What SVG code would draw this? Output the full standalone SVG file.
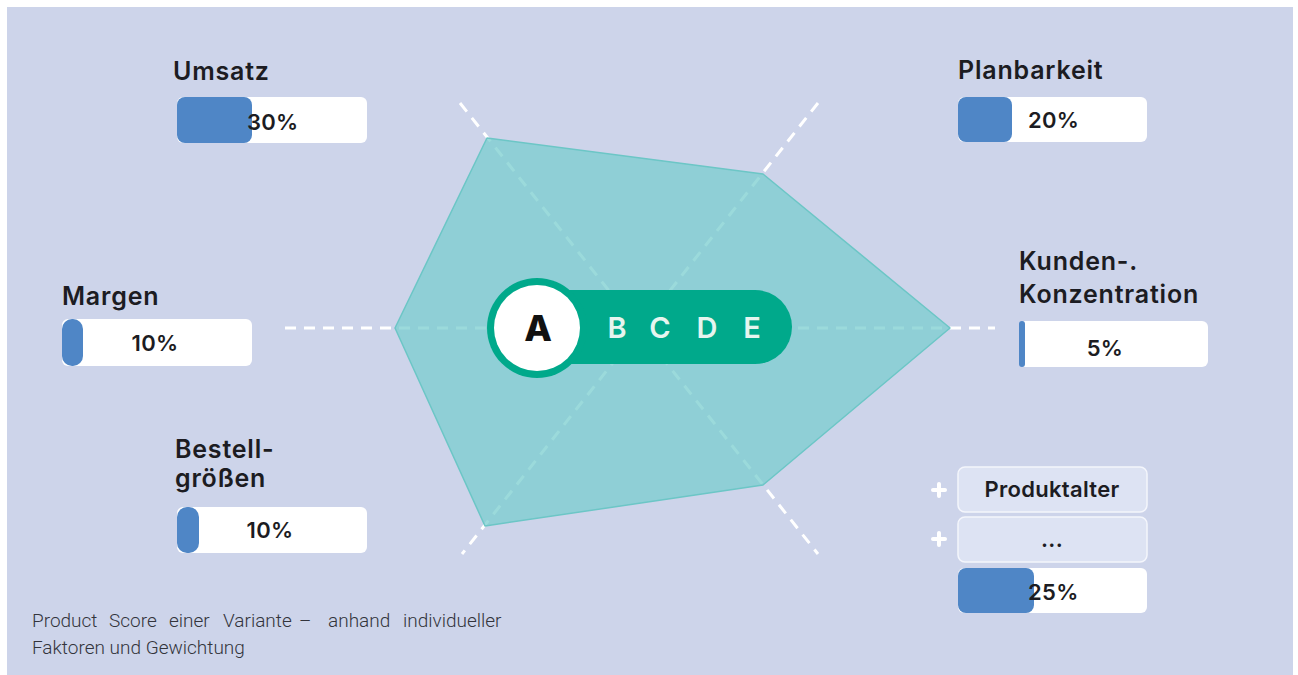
<svg xmlns="http://www.w3.org/2000/svg" width="1298" height="675" viewBox="0 0 1298 675">
  <defs>
    <style>
      .lbl{font-family:Inter,"Noto Sans",sans-serif;font-weight:600;font-size:25px;letter-spacing:0.8px;fill:#1c1c22}
      .pct{font-family:Inter,"Noto Sans",sans-serif;font-weight:600;font-size:22px;letter-spacing:0.3px;fill:#1c1c22}
      .track{fill:#ffffff}
      .fillbar{fill:#4f86c6}
      .axis{stroke:#ffffff;stroke-width:3;stroke-dasharray:11 8;fill:none}
      .chip{fill:#dde3f3;stroke:#f4f6fc;stroke-width:1.5}
      .plus{stroke:#ffffff;stroke-width:4;stroke-linecap:round}
      .letter{font-family:Inter,"Noto Sans",sans-serif;font-weight:600;font-size:29px;fill:#e6f5ef;text-anchor:middle}
      .cap{font-family:Roboto,"Liberation Sans",sans-serif;font-weight:300;font-size:19px;fill:#33343c}
    </style>
  </defs>
  <rect x="0" y="0" width="1298" height="675" fill="#ffffff"/>
  <rect x="7" y="7" width="1286" height="668" fill="#cdd4ea"/>

  <g id="connectors">
    <line class="axis" x1="285" y1="328" x2="995" y2="328"/>
    <line class="axis" x1="460" y1="103" x2="818" y2="554"/>
    <line class="axis" x1="818" y1="103" x2="462" y2="554"/>
  </g>

  <g id="radar">
    <polygon points="395,328 487,138 763,174 950,328 763,485 485,526" fill="#79cecf" fill-opacity="0.75" stroke="#6cc6c6" stroke-width="1.5" stroke-linejoin="round"/>
  </g>

  <g id="selector">
    <rect x="500" y="290" width="292" height="74" rx="37" fill="#00a98b"/>
    <circle cx="537" cy="328" r="50" fill="#00a98b"/>
    <circle cx="537" cy="328" r="43" fill="#ffffff"/>
    <text x="538" y="341" font-family="Inter,'Noto Sans',sans-serif" font-weight="800" font-size="36" fill="#111111" text-anchor="middle">A</text>
    <text class="letter" x="617" y="338">B</text>
    <text class="letter" x="660" y="338">C</text>
    <text class="letter" x="707" y="338">D</text>
    <text class="letter" x="752" y="338">E</text>
  </g>

  <g id="umsatz">
    <text class="lbl" x="173" y="80">Umsatz</text>
    <rect class="track" x="177" y="97" width="190" height="46" rx="6"/>
    <rect class="fillbar" x="177" y="97" width="75" height="46" rx="8"/>
    <text class="pct" x="247" y="130">30%</text>
  </g>

  <g id="margen">
    <text class="lbl" x="62" y="305">Margen</text>
    <rect class="track" x="62" y="319" width="190" height="47" rx="6"/>
    <rect class="fillbar" x="62" y="319" width="21" height="47" rx="10"/>
    <text class="pct" x="155" y="351" text-anchor="middle">10%</text>
  </g>

  <g id="bestellgroessen">
    <text class="lbl" x="175" y="458">Bestell-</text>
    <text class="lbl" x="175" y="487">größen</text>
    <rect class="track" x="177" y="507" width="190" height="46" rx="6"/>
    <rect class="fillbar" x="177" y="507" width="22" height="46" rx="10"/>
    <text class="pct" x="270" y="538" text-anchor="middle">10%</text>
  </g>

  <g id="planbarkeit">
    <text class="lbl" x="958" y="79">Planbarkeit</text>
    <rect class="track" x="958" y="97" width="189" height="45" rx="6"/>
    <rect class="fillbar" x="958" y="97" width="54" height="45" rx="8"/>
    <text class="pct" x="1028" y="128">20%</text>
  </g>

  <g id="kundenkonzentration">
    <text class="lbl" x="1019" y="270">Kunden-.</text>
    <text class="lbl" x="1019" y="303">Konzentration</text>
    <rect class="track" x="1019" y="321" width="189" height="46" rx="6"/>
    <rect class="fillbar" x="1019" y="321" width="6" height="46" rx="3"/>
    <text class="pct" x="1105" y="356" text-anchor="middle">5%</text>
  </g>

  <g id="weitere">
    <line class="plus" x1="933" y1="490" x2="945" y2="490"/>
    <line class="plus" x1="939" y1="484" x2="939" y2="496"/>
    <rect class="chip" x="958" y="467" width="189" height="45" rx="7"/>
    <text class="pct" x="1052" y="497" text-anchor="middle" font-size="20.5">Produktalter</text>
    <line class="plus" x1="933" y1="539" x2="945" y2="539"/>
    <line class="plus" x1="939" y1="533" x2="939" y2="545"/>
    <rect class="chip" x="958" y="517" width="189" height="45" rx="7"/>
    <text class="pct" x="1052" y="547" text-anchor="middle" font-size="16">...</text>
    <rect class="track" x="958" y="568" width="189" height="45" rx="6"/>
    <rect class="fillbar" x="958" y="568" width="76" height="45" rx="8"/>
    <text class="pct" x="1028" y="600">25%</text>
  </g>

  <g id="caption">
    <text class="cap" y="627"><tspan x="32">Product</tspan><tspan x="109">Score</tspan><tspan x="169">einer</tspan><tspan x="223">Variante</tspan><tspan x="299">–</tspan><tspan x="328">anhand</tspan><tspan x="403">individueller</tspan></text>
    <text class="cap" x="32" y="654">Faktoren und Gewichtung</text>
  </g>
</svg>
